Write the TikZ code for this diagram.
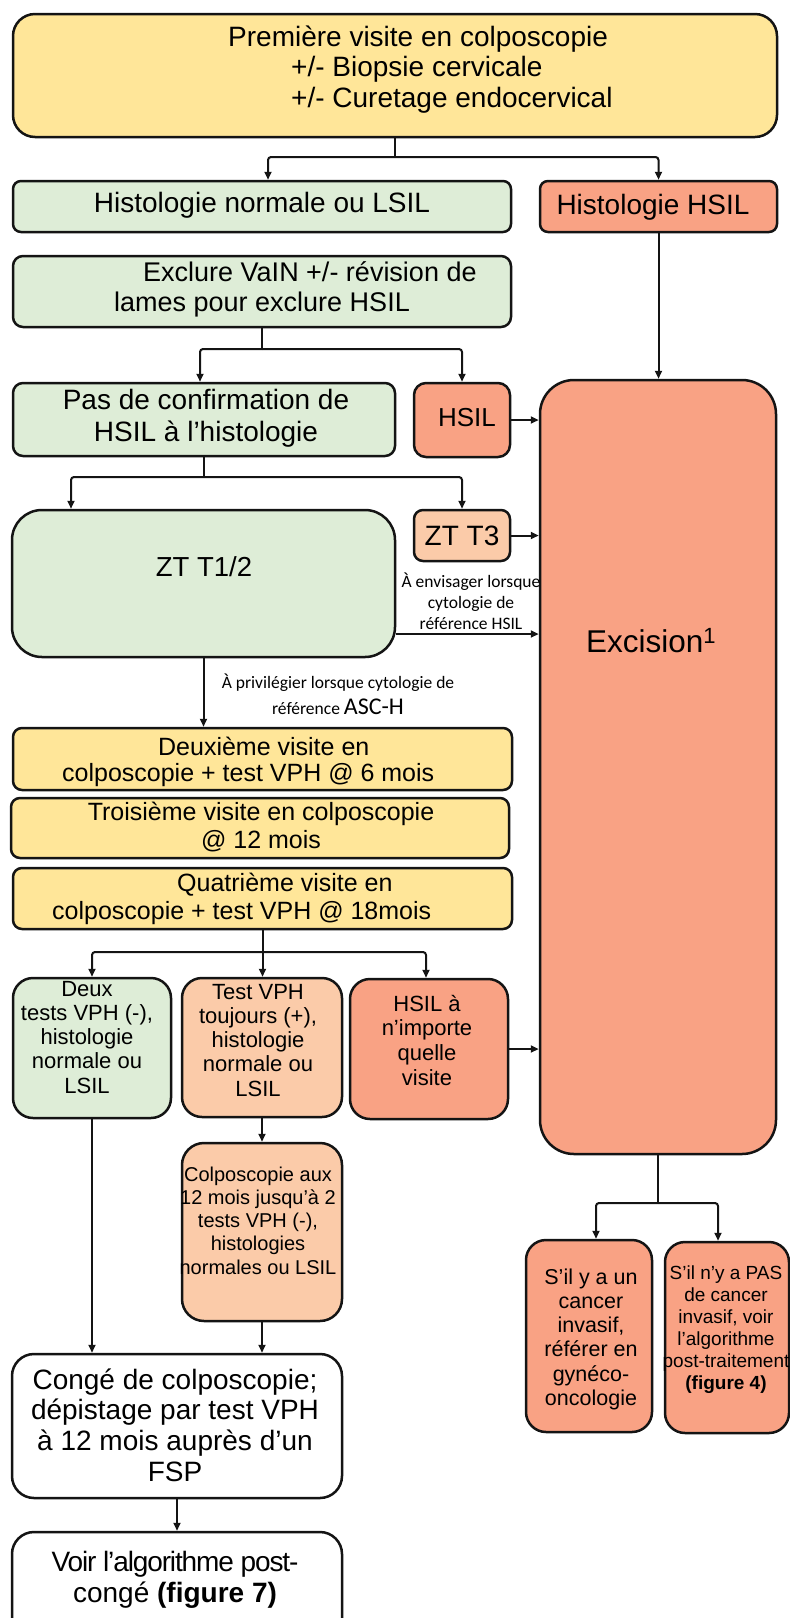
\documentclass[tikz,border=0pt]{standalone}
\usepackage{fontspec}
\setmainfont{Liberation Sans}
\newfontfamily\calfont{Carlito}
\usetikzlibrary{arrows.meta}
\definecolor{yel}{HTML}{FFE699}
\definecolor{grn}{HTML}{DEEDD7}
\definecolor{sal}{HTML}{F9A284}
\definecolor{pch}{HTML}{FBCBA9}
\definecolor{edge}{HTML}{141414}
\tikzset{
  box/.style={draw=edge,line width=2.5pt,inner sep=0pt},
  ln/.style={draw=edge,line width=2pt},
  arr/.style={ln,rounded corners=3pt,-{Triangle[length=8pt,width=7pt]}},
  tx/.style={inner sep=0pt}
}
% name, cx, cy, w, h, radius, fill
\newcommand\bx[7]{\node[box,fill=#7,minimum width=#4pt,minimum height=#5pt,rounded corners=#6pt] (#1) at (#2,#3) {};}
% name, x, first baseline, size, skip, text (centred)
\newcommand\tc[6]{\node[tx,anchor=north,align=center,font=\fontsize{#4}{#5}\selectfont] (#1) at (#2,{#3-0.95*#4}) {\rule{0pt}{0.95em}#6};}
% name, x, first baseline, size, skip, text (left)
\newcommand\tl[6]{\node[tx,anchor=north west,align=left,font=\fontsize{#4}{#5}\selectfont] (#1) at (#2,{#3-0.95*#4}) {\rule{0pt}{0.95em}#6};}
\begin{document}
\begin{tikzpicture}[x=1pt,y=-1pt]
\useasboundingbox (0,0) rectangle (790,1618);
\clip (0,0) rectangle (790,1618);
% boxes
\bx{top}{395}{75.5}{764}{123}{22}{yel}
\bx{hn}{262}{206.5}{498}{51}{8}{grn}
\bx{hh}{658.5}{206.5}{237}{51}{8}{sal}
\bx{excl}{262}{291.5}{498}{71}{10}{grn}
\bx{pas}{204}{419.5}{382}{73}{10}{grn}
\bx{hsil}{462}{420}{96}{74}{12}{sal}
\bx{exc}{658}{767}{236}{774}{34}{sal}
\bx{zt12}{203.5}{583.5}{383}{147}{30}{grn}
\bx{zt3}{462}{535.5}{96}{51}{9}{pch}
\bx{d2}{262.5}{759}{499}{62}{9}{yel}
\bx{d3}{260}{828}{498}{60}{9}{yel}
\bx{d4}{262.5}{898.5}{499}{61}{9}{yel}
\bx{dt}{92}{1048}{158}{140}{20}{grn}
\bx{tv}{262}{1047.5}{160}{139}{20}{pch}
\bx{ha}{429}{1049}{158}{140}{20}{sal}
\bx{col}{262}{1232}{160}{178}{22}{pch}
\bx{cg}{177}{1426}{330}{144}{22}{white}
\bx{vo}{177}{1591}{330}{118}{22}{white}
\bx{s1}{589}{1336}{126}{192}{20}{sal}
\bx{s2}{727}{1337.5}{124}{191}{20}{sal}
% texts
\tl{t1}{228}{46}{28}{30.5}{Première visite en colposcopie\\\hspace*{63pt}+/- Biopsie cervicale\\\hspace*{63pt}+/- Curetage endocervical}
\tc{t2}{262}{212}{28}{30}{Histologie normale ou LSIL}
\tc{t3}{653}{214}{28}{30}{Histologie HSIL}
\tl{t4}{114}{281}{27}{30}{\hspace*{29pt}Exclure VaIN +/- révision de\\lames pour exclure HSIL}
\tc{t5}{206}{409}{28}{32}{Pas de confirmation de\\HSIL à l’histologie}
\tc{t6}{467}{426}{26}{28}{HSIL}
\tc{t7}{204}{576}{27.5}{30}{ZT T1/2}
\tc{t8}{462}{545}{28}{30}{ZT T3}
\node[tx,anchor=north,align=center,font=\calfont\fontsize{17.5}{21}\selectfont] (a1) at (471,{587-0.95*17.5}) {\rule{0pt}{0.95em}À envisager lorsque\\cytologie de\\référence HSIL};
\node[tx,anchor=base west,font=\fontsize{31.5}{34}\selectfont] (t9) at (586,652) {Excision\raisebox{9pt}{\fontsize{22}{22}\selectfont 1}};
\node[tx,anchor=north,align=center,font=\calfont\fontsize{17.5}{26}\selectfont] (a2) at (338,{688-0.95*17.5}) {\rule{0pt}{0.95em}À privilégier lorsque cytologie de\\référence {\fontsize{24}{26}\selectfont ASC-H}};
\tl{t10}{62}{755}{25}{26.5}{\hspace*{96pt}Deuxième visite en\\colposcopie + test VPH @ 6 mois}
\tc{t11}{261}{820}{25}{28}{Troisième visite en colposcopie\\@ 12 mois}
\tl{t12}{52}{891}{25}{28}{\hspace*{125pt}Quatrième visite en\\colposcopie + test VPH @ 18mois}
\tc{t13}{87}{996}{22}{24.25}{Deux\\tests VPH (-),\\histologie\\normale ou\\LSIL}
\tc{t14}{258}{999}{22}{24.25}{Test VPH\\toujours (+),\\histologie\\normale ou\\LSIL}
\tc{t15}{427}{1011}{22}{24.7}{HSIL à\\n’importe\\quelle\\visite}
\tc{t16}{258}{1181}{20}{23.25}{Colposcopie aux\\12 mois jusqu’à 2\\tests VPH (-),\\histologies\\normales ou LSIL}
\tc{t17}{175}{1389}{28}{30.7}{Congé de colposcopie;\\dépistage par test VPH\\à 12 mois auprès d’un\\FSP}
\tc{t18}{175}{1571}{28}{31}{{\addfontfeature{LetterSpace=-4}Voir l’algorithme post-}\\congé \textbf{(figure 7)}}
\tc{t19}{591}{1284}{21.5}{24.2}{S’il y a un\\cancer\\invasif,\\référer en\\gynéco-\\oncologie}
\tc{t20}{726}{1279}{19}{22}{S’il n’y a PAS\\de cancer\\invasif, voir\\l’algorithme\\post-traitement\\\textbf{(figure 4)}}
% junctions
\coordinate (j1) at (395,157);
\coordinate (j2) at (262,349);
\coordinate (j3) at (204,477);
\coordinate (j4) at (262.5,952);
\coordinate (j5) at (658,1203);
\coordinate (z1) at ([yshift=-50.5pt]zt12.east);
% connectors
\draw[ln] (top.south) -- (j1);
\draw[arr] (j1) -| ([xshift=6pt]hn.north);
\draw[arr] (j1) -| (hh.north);
\draw[arr] (hh.south) -- (hh.south |- exc.north);
\draw[ln] (excl.south) -- (j2);
\draw[arr] (j2) -| ([xshift=-4pt]pas.north);
\draw[arr] (j2) -| (hsil.north);
\draw[arr] (hsil.east) -- (hsil.east -| exc.west);
\draw[ln] (pas.south) -- (j3);
\draw[arr] (j3) -| ([xshift=-132.5pt]zt12.north);
\draw[arr] (j3) -| (zt3.north);
\draw[arr] (zt3.east) -- (zt3.east -| exc.west);
\draw[arr] (z1) -- (z1 -| exc.west);
\draw[arr] (zt12.south) -- (zt12.south |- d2.north);
\draw[ln] (d4.south) -- (j4);
\draw[arr] (j4) -| (dt.north);
\draw[arr] (j4) -- (j4 |- tv.north);
\draw[arr] (j4) -| ([xshift=-3pt]ha.north);
\draw[arr] (ha.east) -- (ha.east -| exc.west);
\draw[arr] (dt.south) -- (dt.south |- cg.north);
\draw[arr] (tv.south) -- (col.north);
\draw[arr] (col.south) -- (col.south |- cg.north);
\draw[arr] (cg.south) -- (vo.north);
\draw[ln] (exc.south) -- (j5);
\draw[arr] (j5) -| ([xshift=7pt]s1.north);
\draw[arr] (j5) -| ([xshift=-9pt]s2.north);
\end{tikzpicture}
\end{document}
